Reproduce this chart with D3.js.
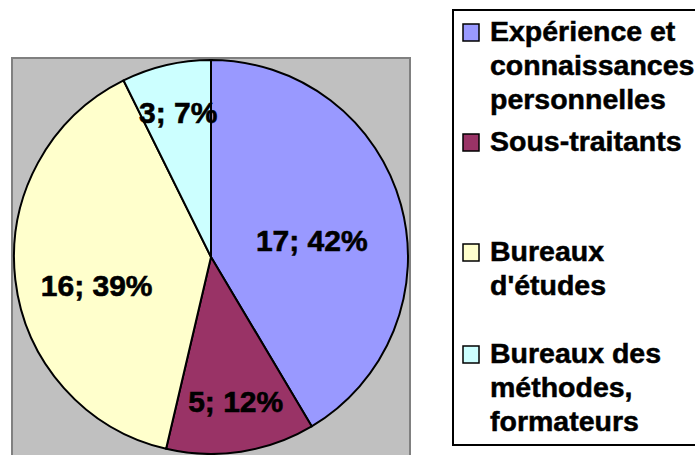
<!DOCTYPE html>
<html>
<head>
<meta charset="utf-8">
<script src="https://cdn.jsdelivr.net/npm/d3@7"></script>
<style>
  html, body { margin: 0; padding: 0; background: #fff; overflow: hidden; }
  svg { display: block; font-family: Arial, 'Liberation Sans', sans-serif; font-weight: bold; }
</style>
</head>
<body>
<div id="viz"></div>
<script>
const width = 695;
const height = 455;

// chart data
const categories = [
  'Expérience et connaissances personnelles',
  'Sous-traitants',
  "Bureaux d'études",
  'Bureaux des méthodes, formateurs',
];
const values = [17, 5, 16, 3];
const percentLabels = ['42%', '12%', '39%', '7%'];
const legendLines = [
  ['Expérience et', 'connaissances', 'personnelles'],
  ['Sous-traitants'],
  ['Bureaux', "d'études"],
  ['Bureaux des', 'méthodes,', 'formateurs'],
];
const colors = ['#9999FF', '#993366', '#FFFFCC', '#CCFFFF'];

// layout
const plot = { x: 12, y: 58, w: 398, h: 420 };
const cx = 211;
const cy = 257;
const radius = 197;
// Excel "best fit" label nudges, relative to centroid
const labelNudge = [[-17, 16], [6, 23], [7, 14], [-5, -26]];
const legendBox = { x: 453, y: 10, w: 260, h: 435 };
const legendFirstBaseline = [41, 151, 261, 363];
const legendLineHeight = 34;

const svg = d3
  .select('#viz')
  .append('svg')
  .attr('width', width)
  .attr('height', height);

// plot area
svg
  .append('rect')
  .attr('x', plot.x)
  .attr('y', plot.y)
  .attr('width', plot.w)
  .attr('height', plot.h)
  .attr('fill', '#C0C0C0')
  .attr('stroke', '#808080')
  .attr('stroke-width', 2);

const pie = d3.pie().sort(null).value((d) => d.value);
const arcs = pie(categories.map((c, i) => ({ name: c, value: values[i], i })));

const arc = d3.arc().innerRadius(0).outerRadius(radius);
const labelArc = d3.arc().innerRadius(radius * 0.62).outerRadius(radius * 0.62);

const g = svg.append('g').attr('transform', `translate(${cx}, ${cy})`);

g.selectAll('path')
  .data(arcs)
  .enter()
  .append('path')
  .attr('d', arc)
  .attr('fill', (d) => colors[d.data.i])
  .attr('stroke', '#000')
  .attr('stroke-width', 2)
  .attr('stroke-linejoin', 'round');

// slice labels (value; percent)
g.selectAll('text')
  .data(arcs)
  .enter()
  .append('text')
  .attr('x', (d) => labelArc.centroid(d)[0] + labelNudge[d.data.i][0])
  .attr('y', (d) => labelArc.centroid(d)[1] + labelNudge[d.data.i][1])
  .attr('dy', '0.36em')
  .attr('text-anchor', 'middle')
  .attr('font-size', 30)
  .attr('fill', '#000')
  .attr('stroke', '#000')
  .attr('stroke-width', 0.6)
  .text((d) => `${d.data.value}; ${percentLabels[d.data.i]}`);

// legend
svg
  .append('rect')
  .attr('x', legendBox.x)
  .attr('y', legendBox.y)
  .attr('width', legendBox.w)
  .attr('height', legendBox.h)
  .attr('fill', '#fff')
  .attr('stroke', '#000')
  .attr('stroke-width', 2);

const items = svg
  .selectAll('.legend-item')
  .data(categories)
  .enter()
  .append('g')
  .attr('class', 'legend-item');

items
  .append('rect')
  .attr('x', 463)
  .attr('y', (d, i) => legendFirstBaseline[i] - 17)
  .attr('width', 16)
  .attr('height', 17)
  .attr('fill', (d, i) => colors[i])
  .attr('stroke', '#000')
  .attr('stroke-width', 1.5);

items.each(function (d, i) {
  const t = d3
    .select(this)
    .append('text')
    .attr('font-size', 28.5)
    .attr('fill', '#000')
    .attr('stroke', '#000')
    .attr('stroke-width', 0.5);
  legendLines[i].forEach((line, k) => {
    t.append('tspan')
      .attr('x', 490)
      .attr('y', legendFirstBaseline[i] + k * legendLineHeight)
      .text(line);
  });
});
</script>
</body>
</html>
